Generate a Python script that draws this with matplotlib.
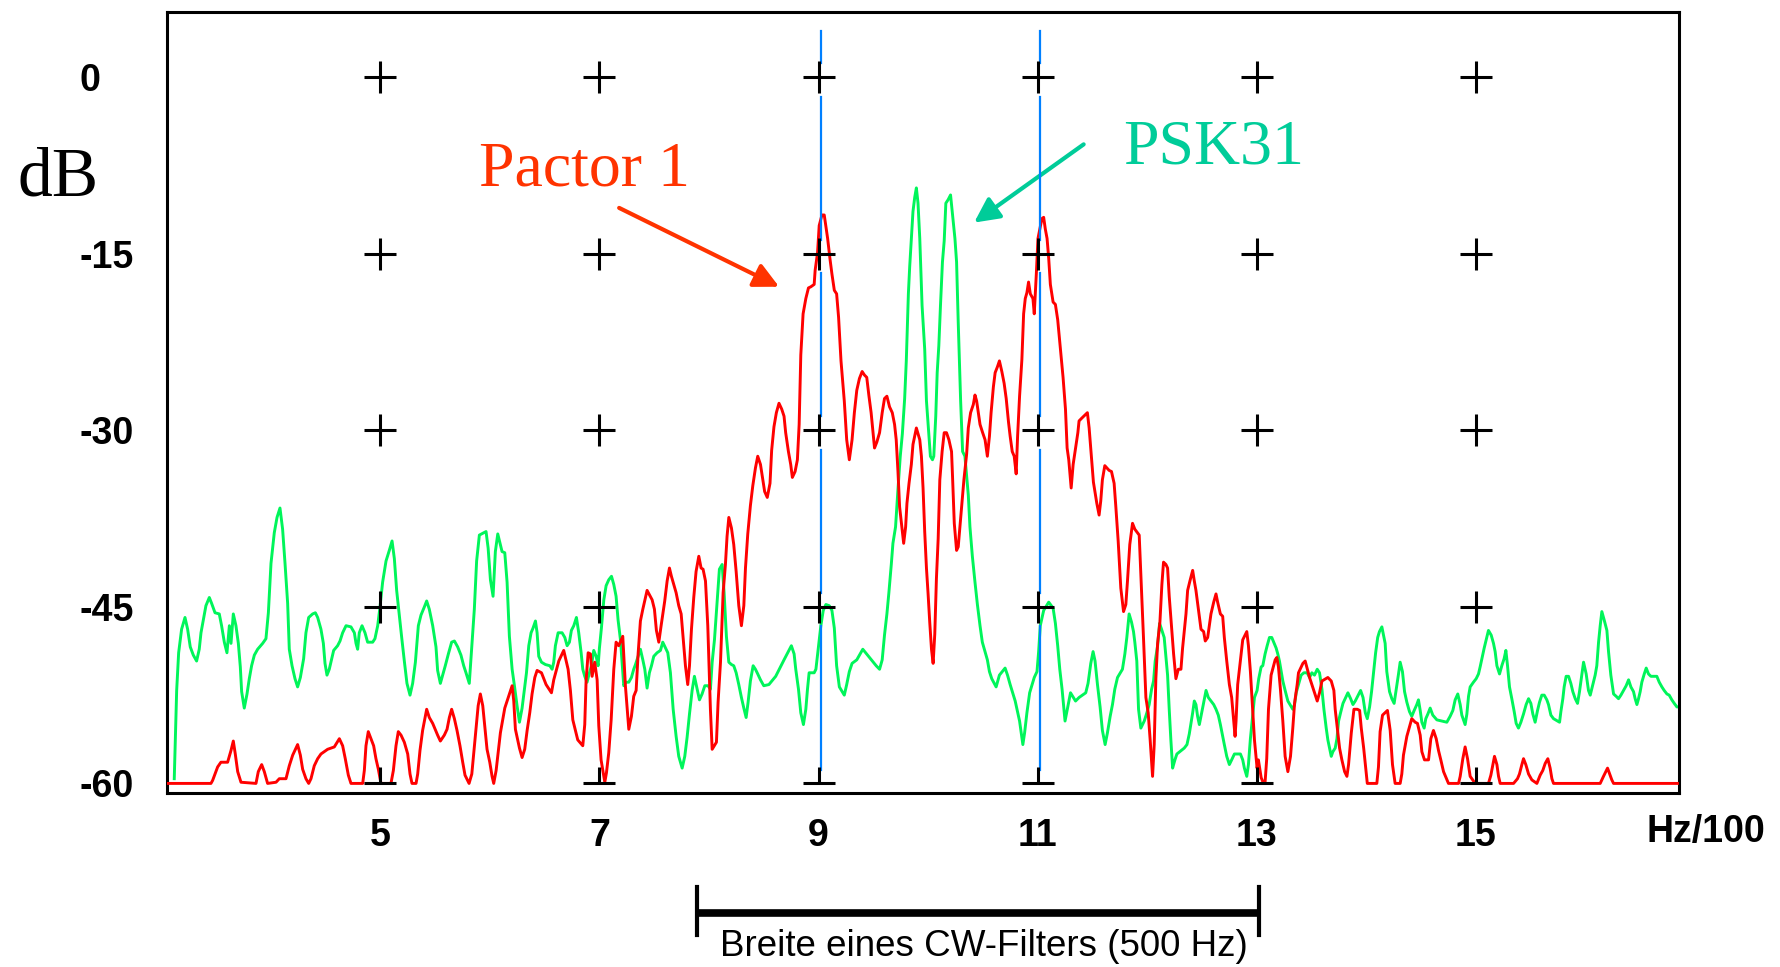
import matplotlib.pyplot as plt

# Frequenzachse in Hz/100, Pegel in dB
grid_x = [5, 7, 9, 11, 13, 15]
grid_db = [0, -15, -30, -45, -60]
filter_lines = [9.02, 11.02]          # blaue Markierungen
cw_filter = [7.89, 13.02]             # Breite eines CW-Filters

# Pactor 1 Spektrum (x, dB)
pactor = [
    (3.062, -60.0), (3.454, -60.0), (3.469, -59.75), (3.491, -59.2), (3.515, -58.6), (3.545, -58.2),
    (3.606, -58.2), (3.637, -57.2), (3.658, -56.4), (3.676, -57.5), (3.698, -59.0), (3.728, -59.9),
    (3.865, -60.0), (3.886, -59.0), (3.917, -58.4), (3.941, -59.0), (3.971, -60.0), (4.048, -59.9),
    (4.078, -59.6), (4.139, -59.6), (4.169, -58.5), (4.200, -57.6), (4.245, -56.7), (4.270, -57.6),
    (4.291, -58.8), (4.321, -59.6), (4.346, -60.0), (4.367, -59.6), (4.397, -58.5), (4.428, -57.9),
    (4.458, -57.5), (4.519, -57.1), (4.580, -56.9), (4.626, -56.2), (4.656, -56.8), (4.680, -57.9),
    (4.708, -59.3), (4.732, -60.0), (4.839, -60.0), (4.854, -58.9), (4.869, -56.8), (4.890, -55.6),
    (4.915, -56.2), (4.939, -56.8), (4.960, -57.9), (4.982, -58.8), (5.006, -60.0), (5.097, -60.0),
    (5.119, -58.9), (5.143, -56.8), (5.164, -55.6), (5.189, -55.9), (5.219, -56.5), (5.250, -57.5),
    (5.271, -59.2), (5.289, -60.0), (5.326, -60.0), (5.341, -59.2), (5.362, -57.2), (5.386, -55.5),
    (5.423, -53.7), (5.447, -54.4), (5.478, -54.9), (5.523, -55.9), (5.548, -56.4), (5.584, -55.9),
    (5.609, -55.4), (5.630, -54.4), (5.651, -53.7), (5.676, -54.5), (5.700, -55.5), (5.727, -56.8),
    (5.752, -58.2), (5.773, -59.3), (5.810, -60.0), (5.835, -59.2), (5.855, -57.2), (5.873, -55.5),
    (5.893, -53.4), (5.913, -52.4), (5.935, -53.4), (5.953, -55.1), (5.974, -57.1), (5.999, -58.2),
    (6.020, -59.4), (6.035, -60.0), (6.057, -58.9), (6.075, -57.4), (6.096, -55.7), (6.136, -53.6),
    (6.178, -52.4), (6.203, -51.7), (6.218, -53.0), (6.233, -55.4), (6.270, -57.0), (6.294, -57.8),
    (6.318, -57.1), (6.340, -55.5), (6.364, -54.0), (6.385, -52.4), (6.410, -51.0), (6.431, -50.4),
    (6.471, -50.6), (6.513, -51.6), (6.562, -52.3), (6.583, -51.2), (6.629, -49.6), (6.674, -48.7),
    (6.696, -49.6), (6.714, -50.3), (6.735, -52.1), (6.757, -54.6), (6.802, -56.3), (6.848, -56.8),
    (6.866, -55.0), (6.878, -51.3), (6.897, -48.9), (6.918, -49.0), (6.933, -50.9), (6.957, -49.7),
    (6.979, -51.2), (6.994, -55.1), (7.015, -58.0), (7.049, -59.9), (7.064, -59.1), (7.085, -57.4),
    (7.107, -54.6), (7.131, -50.3), (7.152, -48.0), (7.176, -48.3), (7.213, -47.5), (7.237, -51.7),
    (7.268, -55.4), (7.292, -54.3), (7.313, -52.6), (7.335, -52.1), (7.353, -49.0), (7.374, -46.2),
    (7.396, -45.2), (7.435, -43.6), (7.481, -44.4), (7.502, -45.2), (7.520, -47.0), (7.542, -48.0),
    (7.563, -46.6), (7.596, -44.5), (7.618, -42.8), (7.639, -41.7), (7.657, -42.4), (7.700, -43.8),
    (7.724, -44.9), (7.746, -45.6), (7.764, -47.6), (7.785, -50.0), (7.806, -51.6), (7.822, -50.0),
    (7.840, -46.9), (7.861, -44.2), (7.882, -42.0), (7.907, -40.7), (7.928, -41.7), (7.946, -41.8),
    (7.968, -42.8), (7.989, -46.6), (8.013, -53.7), (8.029, -57.1), (8.068, -56.5), (8.083, -53.1),
    (8.105, -49.7), (8.129, -43.8), (8.150, -41.4), (8.165, -39.0), (8.181, -37.4), (8.205, -38.3),
    (8.226, -39.7), (8.248, -42.0), (8.272, -44.9), (8.296, -46.6), (8.318, -44.9), (8.333, -41.7),
    (8.354, -38.8), (8.378, -36.4), (8.400, -34.7), (8.424, -33.2), (8.445, -32.2), (8.470, -32.9),
    (8.508, -35.2), (8.532, -35.7), (8.557, -34.5), (8.572, -31.7), (8.593, -29.7), (8.615, -28.5),
    (8.639, -27.7), (8.664, -28.2), (8.685, -28.8), (8.700, -30.2), (8.725, -31.8), (8.746, -32.9),
    (8.761, -34.0), (8.786, -33.5), (8.807, -32.5), (8.823, -29.5), (8.838, -23.6), (8.859, -20.1),
    (8.884, -18.8), (8.908, -17.9), (8.930, -17.8), (8.960, -17.6), (8.969, -16.4), (8.991, -14.9),
    (9.006, -12.6), (9.031, -11.7), (9.052, -11.7), (9.067, -12.7), (9.083, -13.7), (9.104, -15.4),
    (9.122, -16.7), (9.144, -18.1), (9.165, -18.4), (9.183, -20.4), (9.205, -24.1), (9.235, -27.5),
    (9.257, -30.8), (9.281, -32.5), (9.306, -30.8), (9.327, -28.5), (9.349, -26.6), (9.373, -25.6),
    (9.398, -25.0), (9.419, -25.3), (9.440, -25.5), (9.459, -27.0), (9.480, -28.5), (9.511, -31.5),
    (9.532, -31.0), (9.557, -30.2), (9.581, -28.5), (9.602, -27.3), (9.624, -27.1), (9.648, -28.0),
    (9.673, -28.5), (9.694, -29.5), (9.709, -30.8), (9.725, -33.5), (9.740, -36.5), (9.777, -39.6),
    (9.795, -38.2), (9.807, -36.2), (9.826, -34.5), (9.847, -32.9), (9.862, -31.2), (9.893, -29.8),
    (9.924, -30.8), (9.939, -32.2), (9.954, -34.9), (9.969, -38.6), (9.985, -41.7), (10.000, -43.9),
    (10.015, -46.3), (10.031, -48.6), (10.046, -49.8), (10.061, -47.3), (10.076, -42.6), (10.092, -39.2),
    (10.107, -34.2), (10.128, -31.8), (10.147, -30.2), (10.168, -30.2), (10.190, -30.8), (10.214, -31.8),
    (10.223, -33.9), (10.239, -37.9), (10.260, -40.2), (10.275, -39.9), (10.291, -38.2), (10.306, -36.5),
    (10.327, -34.2), (10.352, -32.0), (10.367, -29.8), (10.388, -28.5), (10.413, -27.8), (10.428, -27.0),
    (10.443, -27.5), (10.459, -28.5), (10.474, -29.5), (10.498, -30.2), (10.520, -30.8), (10.541, -32.2),
    (10.560, -30.5), (10.575, -28.5), (10.596, -26.3), (10.612, -25.1), (10.633, -24.6), (10.651, -24.1),
    (10.673, -25.0), (10.694, -26.0), (10.713, -27.3), (10.734, -29.3), (10.749, -30.5), (10.768, -31.8),
    (10.786, -32.2), (10.804, -33.7), (10.817, -30.5), (10.835, -27.1), (10.856, -24.0), (10.872, -20.1),
    (10.887, -18.8), (10.902, -18.3), (10.917, -17.4), (10.933, -18.4), (10.957, -18.8), (10.969, -20.1),
    (10.988, -16.7), (11.003, -13.7), (11.024, -12.7), (11.040, -12.0), (11.055, -11.9), (11.070, -12.9),
    (11.086, -13.7), (11.101, -15.4), (11.116, -17.6), (11.141, -19.1), (11.162, -19.3), (11.183, -20.6),
    (11.208, -23.1), (11.232, -25.5), (11.254, -28.2), (11.269, -31.5), (11.284, -32.5), (11.306, -34.9),
    (11.324, -32.9), (11.346, -31.5), (11.367, -30.2), (11.378, -29.2), (11.399, -29.0), (11.454, -28.5),
    (11.470, -29.8), (11.491, -32.3), (11.509, -34.4), (11.540, -36.2), (11.561, -37.2), (11.576, -36.0),
    (11.591, -34.2), (11.613, -33.0), (11.652, -33.4), (11.674, -33.5), (11.698, -34.5), (11.713, -36.4),
    (11.735, -39.4), (11.759, -43.4), (11.784, -45.4), (11.805, -44.8), (11.820, -42.8), (11.841, -39.7),
    (11.866, -37.9), (11.887, -38.4), (11.927, -38.9), (11.942, -42.2), (11.966, -47.6), (11.988, -52.7),
    (12.009, -54.0), (12.027, -56.3), (12.049, -59.4), (12.064, -56.7), (12.079, -51.1), (12.095, -48.1),
    (12.116, -46.3), (12.134, -43.1), (12.149, -41.2), (12.171, -41.4), (12.186, -41.7), (12.201, -44.1),
    (12.216, -45.9), (12.241, -49.0), (12.262, -51.1), (12.284, -50.3), (12.308, -50.3), (12.323, -48.5),
    (12.354, -45.6), (12.369, -43.6), (12.390, -42.8), (12.415, -41.9), (12.430, -42.8), (12.445, -43.6),
    (12.466, -45.1), (12.491, -46.9), (12.515, -47.1), (12.530, -47.9), (12.552, -47.6), (12.582, -45.6),
    (12.607, -44.6), (12.628, -43.9), (12.643, -44.6), (12.668, -45.6), (12.689, -45.8), (12.704, -47.6),
    (12.726, -49.6), (12.750, -51.6), (12.771, -52.7), (12.790, -54.7), (12.802, -56.0), (12.811, -54.7),
    (12.826, -51.6), (12.851, -49.5), (12.872, -47.8), (12.909, -47.1), (12.924, -48.3), (12.942, -50.5),
    (12.963, -53.8), (12.979, -56.3), (13.003, -58.7), (13.015, -58.0), (13.040, -59.5), (13.061, -60.0),
    (13.076, -59.9), (13.091, -57.9), (13.107, -53.7), (13.131, -50.8), (13.168, -49.5), (13.183, -49.3),
    (13.198, -50.1), (13.216, -52.0), (13.238, -54.7), (13.259, -57.7), (13.284, -59.0), (13.308, -57.7),
    (13.329, -55.3), (13.345, -53.2), (13.369, -51.6), (13.381, -50.6), (13.421, -49.8), (13.442, -49.6),
    (13.482, -51.0), (13.527, -52.3), (13.552, -53.0), (13.573, -52.3), (13.595, -51.3), (13.649, -51.0),
    (13.680, -51.3), (13.704, -52.1), (13.716, -53.7), (13.735, -55.3), (13.756, -57.0), (13.777, -58.0),
    (13.802, -59.0), (13.823, -59.4), (13.838, -58.4), (13.863, -55.7), (13.887, -53.7), (13.918, -53.7),
    (13.939, -53.8), (13.954, -55.3), (13.976, -57.0), (13.991, -58.4), (14.009, -60.0), (14.096, -60.0),
    (14.111, -58.6), (14.126, -55.6), (14.148, -54.2), (14.193, -53.8), (14.218, -55.5), (14.239, -58.4),
    (14.263, -60.0), (14.309, -60.0), (14.324, -59.2), (14.339, -57.6), (14.370, -56.0), (14.394, -55.2),
    (14.415, -54.5), (14.446, -54.8), (14.467, -54.9), (14.492, -55.9), (14.507, -57.3), (14.531, -58.0),
    (14.568, -58.0), (14.589, -56.2), (14.613, -55.5), (14.638, -56.2), (14.659, -57.2), (14.680, -58.0),
    (14.705, -59.0), (14.750, -60.0), (14.842, -60.0), (14.857, -59.4), (14.881, -57.9), (14.902, -56.9),
    (14.924, -57.9), (14.948, -59.4), (14.994, -60.0), (15.115, -60.0), (15.137, -59.3), (15.155, -58.4),
    (15.170, -57.7), (15.192, -58.4), (15.207, -59.4), (15.222, -60.0), (15.344, -60.0), (15.380, -59.6),
    (15.398, -59.2), (15.420, -58.4), (15.435, -57.9), (15.456, -58.4), (15.481, -59.2), (15.511, -59.7),
    (15.557, -60.0), (15.587, -59.3), (15.611, -58.9), (15.633, -58.3), (15.657, -57.9), (15.678, -58.7),
    (15.694, -59.6), (15.709, -60.0), (16.135, -60.0), (16.165, -59.4), (16.202, -58.7), (16.241, -59.7),
    (16.257, -60.0), (16.840, -60.0),
]

# PSK31 Spektrum (x, dB)
psk31 = [
    (3.119, -59.6), (3.141, -52.1), (3.159, -48.9), (3.186, -46.9), (3.217, -45.9), (3.241, -46.9),
    (3.265, -48.4), (3.293, -49.1), (3.323, -49.6), (3.347, -48.6), (3.363, -47.2), (3.408, -44.9),
    (3.439, -44.2), (3.460, -44.7), (3.491, -45.5), (3.530, -45.6), (3.551, -46.6), (3.576, -48.0),
    (3.600, -48.9), (3.622, -46.6), (3.637, -48.1), (3.658, -45.6), (3.682, -46.6), (3.704, -48.1),
    (3.722, -50.1), (3.734, -52.2), (3.758, -53.6), (3.783, -52.4), (3.804, -51.1), (3.825, -50.0),
    (3.850, -49.1), (3.880, -48.6), (3.926, -48.1), (3.956, -47.7), (3.978, -45.5), (4.002, -41.3),
    (4.032, -38.7), (4.057, -37.4), (4.084, -36.6), (4.108, -38.4), (4.130, -41.3), (4.154, -44.7),
    (4.169, -48.6), (4.194, -50.0), (4.221, -51.1), (4.245, -51.8), (4.270, -51.0), (4.300, -49.4),
    (4.321, -47.2), (4.346, -45.9), (4.382, -45.6), (4.407, -45.5), (4.428, -45.9), (4.458, -46.9),
    (4.480, -48.1), (4.495, -49.8), (4.513, -50.8), (4.534, -50.3), (4.556, -49.4), (4.574, -48.7),
    (4.610, -48.3), (4.632, -47.9), (4.656, -47.2), (4.687, -46.6), (4.732, -46.7), (4.763, -47.2),
    (4.778, -48.1), (4.793, -48.6), (4.808, -47.2), (4.833, -46.6), (4.860, -47.2), (4.884, -48.0),
    (4.930, -48.0), (4.951, -47.7), (4.976, -46.6), (4.997, -45.0), (5.021, -42.9), (5.052, -41.1),
    (5.082, -40.2), (5.107, -39.4), (5.128, -40.9), (5.149, -43.6), (5.173, -45.7), (5.195, -47.6),
    (5.219, -49.6), (5.243, -51.5), (5.271, -52.5), (5.295, -51.5), (5.320, -49.7), (5.347, -46.6),
    (5.371, -45.7), (5.402, -45.0), (5.423, -44.5), (5.447, -45.2), (5.478, -46.6), (5.508, -48.4),
    (5.523, -50.4), (5.548, -51.5), (5.569, -50.8), (5.593, -50.0), (5.621, -49.0), (5.651, -48.0),
    (5.676, -47.9), (5.706, -48.4), (5.736, -49.1), (5.761, -50.0), (5.782, -50.6), (5.812, -51.5),
    (5.837, -48.1), (5.858, -45.2), (5.879, -41.1), (5.904, -38.9), (5.944, -38.7), (5.965, -38.6),
    (5.984, -40.0), (6.005, -42.7), (6.029, -44.1), (6.050, -40.3), (6.072, -38.8), (6.090, -39.5),
    (6.111, -40.3), (6.136, -40.4), (6.157, -42.9), (6.178, -47.5), (6.203, -50.3), (6.224, -51.7),
    (6.248, -53.4), (6.270, -54.8), (6.294, -53.6), (6.315, -52.0), (6.334, -50.6), (6.355, -48.3),
    (6.376, -47.2), (6.394, -46.8), (6.416, -46.2), (6.431, -47.2), (6.446, -49.2), (6.471, -49.7),
    (6.507, -49.9), (6.547, -50.0), (6.568, -50.3), (6.583, -49.7), (6.598, -48.3), (6.623, -47.2),
    (6.659, -47.2), (6.684, -47.6), (6.705, -48.3), (6.726, -48.0), (6.744, -47.0), (6.766, -46.6),
    (6.790, -45.9), (6.811, -47.2), (6.833, -48.9), (6.848, -50.3), (6.866, -50.9), (6.887, -51.4),
    (6.909, -50.6), (6.927, -50.0), (6.948, -48.7), (6.970, -49.2), (6.988, -50.0), (7.000, -48.5),
    (7.018, -46.8), (7.040, -44.4), (7.061, -43.2), (7.085, -42.7), (7.110, -42.4), (7.131, -43.1),
    (7.152, -44.1), (7.170, -46.1), (7.192, -47.8), (7.207, -49.7), (7.222, -51.7), (7.243, -51.4),
    (7.268, -51.4), (7.292, -51.0), (7.313, -50.3), (7.329, -49.9), (7.353, -49.2), (7.374, -48.6),
    (7.396, -49.5), (7.414, -50.3), (7.435, -51.9), (7.456, -50.6), (7.475, -50.0), (7.496, -49.2),
    (7.526, -48.9), (7.557, -48.7), (7.578, -48.0), (7.603, -48.5), (7.624, -48.9), (7.648, -50.6),
    (7.673, -53.7), (7.700, -56.0), (7.724, -57.7), (7.755, -58.7), (7.779, -57.7), (7.800, -56.1),
    (7.822, -54.1), (7.846, -52.1), (7.867, -50.9), (7.892, -52.0), (7.913, -52.9), (7.937, -52.4),
    (7.962, -51.7), (7.992, -51.7), (8.013, -52.0), (8.029, -49.7), (8.050, -47.8), (8.074, -44.6),
    (8.095, -41.8), (8.120, -41.4), (8.138, -43.8), (8.159, -47.5), (8.181, -49.7), (8.205, -49.9),
    (8.226, -50.0), (8.248, -50.6), (8.272, -51.6), (8.296, -52.7), (8.318, -53.6), (8.339, -54.4),
    (8.357, -53.1), (8.378, -51.3), (8.403, -50.0), (8.424, -50.3), (8.445, -50.7), (8.470, -51.2),
    (8.500, -51.7), (8.547, -51.6), (8.609, -50.9), (8.685, -49.5), (8.752, -48.3), (8.777, -49.0),
    (8.792, -50.3), (8.817, -52.0), (8.838, -54.0), (8.862, -55.0), (8.884, -53.7), (8.899, -52.0),
    (8.914, -50.6), (8.960, -50.6), (8.976, -50.3), (9.000, -48.3), (9.021, -46.6), (9.043, -45.3),
    (9.067, -44.8), (9.098, -44.9), (9.122, -45.3), (9.144, -46.8), (9.165, -50.0), (9.190, -51.8),
    (9.235, -52.5), (9.257, -51.6), (9.281, -50.5), (9.306, -49.8), (9.349, -49.5), (9.404, -48.6),
    (9.465, -49.3), (9.526, -50.0), (9.557, -50.3), (9.581, -49.5), (9.602, -47.4), (9.624, -45.6),
    (9.642, -43.8), (9.664, -41.4), (9.679, -39.6), (9.703, -38.2), (9.725, -35.0), (9.746, -32.2),
    (9.765, -30.3), (9.786, -27.3), (9.801, -24.1), (9.820, -18.4), (9.832, -16.1), (9.847, -13.7),
    (9.862, -11.4), (9.878, -10.2), (9.893, -9.4), (9.908, -10.7), (9.924, -13.7), (9.945, -19.4),
    (9.969, -23.1), (9.985, -27.5), (10.000, -29.5), (10.021, -32.2), (10.040, -32.5), (10.052, -32.2),
    (10.070, -28.8), (10.083, -25.1), (10.098, -22.8), (10.113, -19.4), (10.131, -15.7), (10.147, -13.9),
    (10.162, -10.7), (10.183, -10.4), (10.205, -10.0), (10.223, -11.7), (10.245, -13.7), (10.260, -15.7),
    (10.275, -20.8), (10.297, -27.5), (10.315, -31.8), (10.336, -32.2), (10.352, -33.9), (10.367, -35.5),
    (10.382, -38.2), (10.404, -40.7), (10.428, -42.9), (10.450, -44.8), (10.474, -46.6), (10.495, -48.0),
    (10.541, -49.5), (10.560, -50.5), (10.581, -51.1), (10.621, -51.8), (10.651, -50.8), (10.703, -50.2),
    (10.725, -50.8), (10.749, -51.6), (10.795, -53.0), (10.835, -54.7), (10.850, -55.7), (10.865, -56.7),
    (10.881, -55.7), (10.902, -54.0), (10.927, -52.3), (10.969, -51.0), (10.994, -50.5), (11.009, -48.8),
    (11.024, -46.6), (11.055, -45.3), (11.101, -44.6), (11.141, -45.1), (11.162, -46.4), (11.183, -48.3),
    (11.202, -50.3), (11.223, -52.0), (11.250, -54.7), (11.275, -53.5), (11.300, -52.3), (11.346, -53.0),
    (11.378, -52.7), (11.439, -52.3), (11.460, -51.5), (11.485, -49.8), (11.506, -48.8), (11.524, -49.6),
    (11.546, -51.6), (11.570, -53.5), (11.591, -55.5), (11.616, -56.7), (11.637, -55.7), (11.662, -54.3),
    (11.683, -53.3), (11.704, -52.0), (11.729, -51.0), (11.774, -50.3), (11.796, -49.0), (11.814, -47.6),
    (11.835, -45.6), (11.857, -46.3), (11.875, -47.1), (11.887, -48.0), (11.905, -49.6), (11.921, -53.7),
    (11.942, -55.3), (11.973, -54.7), (11.997, -54.0), (12.018, -53.3), (12.040, -52.0), (12.058, -51.3),
    (12.073, -49.6), (12.095, -48.3), (12.113, -46.4), (12.131, -46.9), (12.155, -47.6), (12.171, -49.3),
    (12.186, -50.8), (12.201, -53.7), (12.216, -56.3), (12.232, -58.7), (12.253, -58.0), (12.271, -57.5),
    (12.338, -57.0), (12.363, -56.7), (12.384, -55.8), (12.415, -54.0), (12.430, -53.0), (12.445, -53.3),
    (12.460, -54.3), (12.476, -55.0), (12.491, -54.3), (12.512, -53.3), (12.537, -52.1), (12.558, -52.7),
    (12.607, -53.3), (12.628, -53.7), (12.649, -54.2), (12.668, -55.0), (12.689, -56.0), (12.704, -56.7),
    (12.726, -57.7), (12.750, -58.4), (12.771, -58.0), (12.796, -57.5), (12.851, -57.5), (12.872, -58.0),
    (12.887, -58.7), (12.909, -59.4), (12.924, -58.4), (12.942, -56.2), (12.963, -54.2), (12.979, -52.7),
    (13.003, -52.1), (13.018, -51.1), (13.040, -50.1), (13.055, -50.0), (13.076, -49.0), (13.095, -48.3),
    (13.116, -47.6), (13.137, -47.6), (13.155, -48.0), (13.177, -48.5), (13.192, -49.0), (13.207, -49.6),
    (13.223, -50.5), (13.238, -51.3), (13.259, -52.1), (13.284, -53.0), (13.329, -53.7), (13.345, -53.3),
    (13.360, -52.3), (13.381, -51.6), (13.405, -50.8), (13.430, -50.6), (13.460, -50.6), (13.482, -51.0),
    (13.503, -50.6), (13.527, -50.8), (13.552, -50.3), (13.573, -50.6), (13.595, -52.0), (13.613, -53.7),
    (13.634, -55.3), (13.649, -56.3), (13.665, -57.0), (13.680, -57.7), (13.695, -57.3), (13.716, -57.0),
    (13.732, -56.2), (13.747, -54.7), (13.765, -54.0), (13.787, -53.2), (13.832, -52.3), (13.857, -52.8),
    (13.878, -53.3), (13.899, -53.0), (13.948, -52.1), (13.970, -52.7), (13.991, -54.0), (14.009, -54.5),
    (14.030, -53.5), (14.048, -52.2), (14.068, -50.4), (14.085, -48.9), (14.104, -47.6), (14.120, -47.1),
    (14.142, -46.7), (14.157, -47.4), (14.172, -48.1), (14.187, -50.5), (14.212, -52.2), (14.233, -52.8),
    (14.254, -53.2), (14.272, -52.1), (14.294, -50.7), (14.309, -49.7), (14.330, -50.5), (14.349, -52.2),
    (14.370, -53.1), (14.394, -53.9), (14.415, -54.3), (14.437, -53.8), (14.461, -53.3), (14.476, -52.9),
    (14.492, -53.8), (14.507, -54.8), (14.528, -55.3), (14.543, -54.5), (14.562, -54.1), (14.583, -53.6),
    (14.607, -54.2), (14.644, -54.6), (14.735, -54.8), (14.765, -54.3), (14.790, -53.8), (14.811, -52.9),
    (14.835, -52.4), (14.857, -53.3), (14.872, -54.2), (14.902, -55.0), (14.918, -54.1), (14.933, -52.6),
    (14.948, -51.8), (14.978, -51.4), (15.003, -51.1), (15.024, -50.7), (15.039, -50.1), (15.055, -49.4),
    (15.076, -48.5), (15.094, -47.8), (15.115, -47.0), (15.140, -47.4), (15.161, -48.1), (15.176, -48.8),
    (15.192, -50.0), (15.216, -50.7), (15.237, -50.0), (15.258, -49.4), (15.274, -48.7), (15.289, -50.0),
    (15.307, -51.8), (15.328, -52.8), (15.350, -53.9), (15.368, -54.9), (15.389, -55.3), (15.411, -54.8),
    (15.435, -54.1), (15.459, -53.3), (15.481, -52.8), (15.502, -53.2), (15.520, -54.1), (15.541, -54.8),
    (15.563, -53.8), (15.581, -53.1), (15.602, -52.5), (15.624, -52.5), (15.648, -52.9), (15.663, -53.3),
    (15.685, -54.2), (15.709, -54.5), (15.764, -54.8), (15.776, -53.9), (15.794, -52.8), (15.806, -51.8),
    (15.824, -50.9), (15.846, -50.9), (15.867, -51.5), (15.885, -52.2), (15.907, -52.8), (15.928, -53.2),
    (15.946, -52.2), (15.968, -50.7), (15.983, -49.7), (16.007, -50.7), (16.028, -52.1), (16.044, -52.5),
    (16.065, -51.7), (16.089, -50.8), (16.104, -50.0), (16.120, -48.0), (16.135, -46.6), (16.150, -45.4),
    (16.171, -46.1), (16.196, -47.0), (16.211, -48.8), (16.232, -50.8), (16.257, -52.4), (16.281, -52.6),
    (16.302, -52.8), (16.324, -52.5), (16.348, -52.1), (16.372, -51.7), (16.394, -51.2), (16.415, -51.8),
    (16.439, -52.2), (16.454, -52.8), (16.470, -53.3), (16.485, -52.8), (16.500, -52.2), (16.515, -51.4),
    (16.537, -50.7), (16.555, -50.2), (16.576, -50.7), (16.598, -50.9), (16.652, -50.9), (16.674, -51.4),
    (16.698, -51.8), (16.719, -52.1), (16.744, -52.4), (16.765, -52.5), (16.789, -52.9), (16.811, -53.2),
    (16.835, -53.5), (16.850, -53.5),
]

pactor_x, pactor_db = zip(*pactor)
psk_x, psk_db = zip(*psk31)

W, H = 1780, 967
fig = plt.figure(figsize=(W / 100, H / 100), dpi=100)
ax = fig.add_axes([166.7 / W, 1 - 793.3 / H, 1512.6 / W, 781.0 / H])
ax.set_xlim(3.05, 16.857)
ax.set_ylim(-60.84, 5.52)

sans = ['Liberation Sans', 'DejaVu Sans']
serif = ['Liberation Serif', 'DejaVu Serif']

# Spektren
ax.plot(psk_x, psk_db, color='#00F55A', lw=2.1, zorder=2)
ax.plot(pactor_x, pactor_db, color='#FF0000', lw=2.1, zorder=3)

# blaue Linien, unterbrochen an den Kreuzen
for fx in filter_lines:
    top = 3.9
    for lvl in grid_db[:-1]:
        ax.plot([fx, fx], [top, lvl + 1.2], color='#0080FF', lw=1.6, zorder=4)
        top = lvl - 1.65
    ax.plot([fx, fx], [top, -58.9], color='#0080FF', lw=1.6, zorder=4)

# Gitterkreuze
for lvl in grid_db[:-1]:
    ax.plot(grid_x, [lvl] * len(grid_x), ls='none', marker='+', ms=23, mew=2.2,
            color='black', zorder=6)
ax.plot(grid_x, [grid_db[-1]] * len(grid_x), ls='none', marker='_', ms=23, mew=2.2,
        color='black', zorder=6)
ax.plot(grid_x, [grid_db[-1]] * len(grid_x), ls='none', marker=2, ms=11.5, mew=2.2,
        color='black', zorder=6)

# Achsen
for sp in ax.spines.values():
    sp.set_linewidth(2.2)
ax.set_xticks(grid_x)
ax.set_xticklabels([str(v) for v in grid_x], fontsize=27, fontweight='bold', family=sans)
ax.set_yticks(grid_db)
ax.set_yticklabels([str(v) for v in grid_db], fontsize=27, fontweight='bold', family=sans,
                   ha='left')
ax.tick_params(axis='x', length=0, pad=18)
ax.tick_params(axis='y', length=0, pad=63)

fig.text(1706 / W, 1 - 832 / H, 'Hz/100', ha='center', va='center', fontsize=27,
         fontweight='bold', family=sans)
fig.text(58 / W, 1 - 195 / H, 'dB', ha='center', va='baseline', fontsize=50, family=serif)

# Beschriftungen mit Pfeilen
fig.text(479 / W, 1 - 185 / H, 'Pactor 1', ha='left', va='baseline', fontsize=46,
         family=serif, color='#FF3300')
fig.text(1123 / W, 1 - 164 / H, 'PSK31', ha='left', va='baseline', fontsize=46,
         family=serif, color='#00CC99')
ax.annotate('', xy=(8.64, -17.8), xytext=(7.18, -11.1),
            arrowprops=dict(arrowstyle='-|>,head_length=0.6,head_width=0.3', color='#FF3300',
                            lw=3, mutation_scale=25, shrinkA=0, shrinkB=0))
ax.annotate('', xy=(10.42, -12.35), xytext=(11.42, -5.7),
            arrowprops=dict(arrowstyle='-|>,head_length=0.6,head_width=0.3', color='#00CC99',
                            lw=3, mutation_scale=25, shrinkA=0, shrinkB=0))

# CW-Filter Klammer unter der Achse
ax.plot(cw_filter, [-71.0, -71.0], color='black', lw=5.5, clip_on=False,
        solid_capstyle='butt')
for bx in cw_filter:
    ax.plot([bx, bx], [-68.8, -72.9], color='black', lw=3, clip_on=False)
fig.text(984 / W, 1 - 956 / H, 'Breite eines CW-Filters (500 Hz)', ha='center', va='baseline',
         fontsize=26.5, family=sans)

fig.savefig('out.png', dpi=100)
